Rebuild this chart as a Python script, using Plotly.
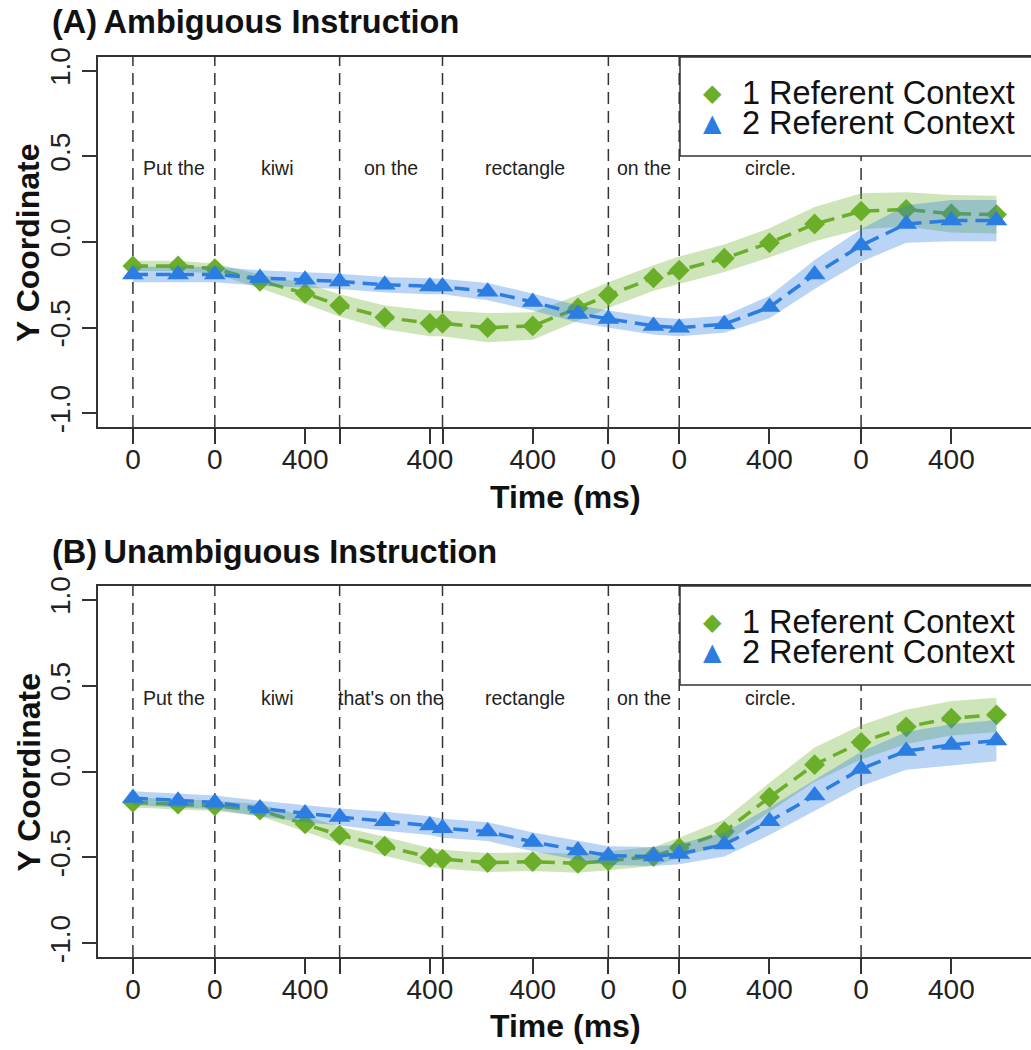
import plotly.graph_objects as go

# ---------------- data ----------------
time_ms = [0, 200, 363, 563, 763, 916, 1116, 1316, 1372, 1572, 1772, 1972,
           2107, 2307, 2421, 2621, 2821, 3021, 3227, 3427, 3627, 3827]
word_onsets = [0, 363, 916, 1372, 2107, 2421, 3227]

words_A = ["Put the", "kiwi", "on the", "rectangle", "on the", "circle."]
words_B = ["Put the", "kiwi", "that's on the", "rectangle", "on the", "circle."]

tick_vals = [0, 363, 763, 916, 1316, 1372, 1772, 2107, 2421, 2821, 3227, 3627]
tick_text = ["0", "0", "400", "", "400", "", "400", "0", "0", "400", "0", "400"]

y_tick_vals = [-1.0, -0.5, 0.0, 0.5, 1.0]
y_tick_text = ["-1.0", "-0.5", "0.0", "0.5", "1.0"]

A_one = [-0.14, -0.14, -0.155, -0.23, -0.30, -0.37, -0.44, -0.475, -0.475, -0.50, -0.49, -0.385,
         -0.31, -0.21, -0.165, -0.095, -0.005, 0.105, 0.18, 0.19, 0.165, 0.16]
A_one_ci = [0.03, 0.03, 0.03, 0.04, 0.06, 0.065, 0.07, 0.075, 0.075, 0.085, 0.08, 0.075,
            0.075, 0.075, 0.08, 0.08, 0.085, 0.10, 0.105, 0.10, 0.11, 0.11]
A_two = [-0.19, -0.19, -0.19, -0.21, -0.22, -0.23, -0.25, -0.26, -0.26, -0.29, -0.35, -0.42,
         -0.45, -0.49, -0.50, -0.48, -0.38, -0.19, -0.02, 0.105, 0.125, 0.125]
A_two_ci = [0.045, 0.045, 0.045, 0.045, 0.045, 0.045, 0.045, 0.045, 0.045, 0.05, 0.05, 0.05,
            0.05, 0.05, 0.05, 0.05, 0.065, 0.085, 0.095, 0.11, 0.12, 0.12]

B_one = [-0.18, -0.19, -0.20, -0.225, -0.305, -0.37, -0.435, -0.50, -0.51, -0.53, -0.525, -0.535,
         -0.52, -0.495, -0.445, -0.35, -0.15, 0.04, 0.17, 0.26, 0.31, 0.33]
B_one_ci = [0.03, 0.03, 0.03, 0.035, 0.045, 0.05, 0.055, 0.055, 0.055, 0.055, 0.055, 0.055,
            0.055, 0.055, 0.06, 0.07, 0.085, 0.10, 0.10, 0.10, 0.10, 0.10]
B_two = [-0.155, -0.17, -0.18, -0.215, -0.245, -0.265, -0.29, -0.315, -0.33, -0.35, -0.41, -0.46,
         -0.49, -0.495, -0.48, -0.425, -0.29, -0.14, 0.015, 0.12, 0.155, 0.18]
B_two_ci = [0.04, 0.04, 0.04, 0.045, 0.05, 0.05, 0.055, 0.055, 0.055, 0.055, 0.055, 0.055,
            0.055, 0.055, 0.06, 0.07, 0.08, 0.09, 0.10, 0.11, 0.12, 0.12]

series_names = ["1 Referent Context", "2 Referent Context"]
panel_titles = ["(A)\u2009Ambiguous Instruction", "(B)\u2009Unambiguous Instruction"]

# ---------------- style ----------------
W, H = 1031, 1050
GREEN = "rgb(106,174,41)"
GREEN_BAND = "rgba(106,174,41,0.33)"
BLUE = "rgb(43,125,225)"
BLUE_BAND = "rgba(43,125,225,0.33)"
DARK = "#333333"
FONT = "Liberation Sans, Arial, Helvetica, sans-serif"

def fx(px):
    return px / W

def fy(py):
    return 1 - py / H

panels = [
    dict(top=57, bottom=427, one=A_one, one_ci=A_one_ci, two=A_two, two_ci=A_two_ci,
         words=words_A, title=panel_titles[0], title_y=22, xtitle_y=497),
    dict(top=586, bottom=957, one=B_one, one_ci=B_one_ci, two=B_two, two_ci=B_two_ci,
         words=words_B, title=panel_titles[1], title_y=552, xtitle_y=1026),
]

fig = go.Figure()
shapes = []
annotations = []
x_left_px = 98.4

for i, p in enumerate(panels):
    sfx = "" if i == 0 else str(i + 1)
    xa = "x" + sfx
    ya = "y" + sfx

    def band(vals, ci, color):
        upper = [v + c for v, c in zip(vals, ci)]
        lower = [v - c for v, c in zip(vals, ci)]
        return go.Scatter(x=time_ms + time_ms[::-1], y=upper + lower[::-1],
                          fill="toself", fillcolor=color, line=dict(width=0),
                          mode="lines", hoverinfo="skip", showlegend=False,
                          xaxis=xa, yaxis=ya)

    fig.add_trace(band(p["one"], p["one_ci"], GREEN_BAND))
    fig.add_trace(go.Scatter(x=time_ms, y=p["one"], mode="lines+markers",
                             name=series_names[0], showlegend=False,
                             line=dict(color=GREEN, width=3.5, dash="15px,8px"),
                             marker=dict(symbol="diamond", size=16, color=GREEN),
                             xaxis=xa, yaxis=ya))
    fig.add_trace(band(p["two"], p["two_ci"], BLUE_BAND))
    fig.add_trace(go.Scatter(x=time_ms, y=p["two"], mode="lines+markers",
                             name=series_names[1], showlegend=False,
                             line=dict(color=BLUE, width=3.5, dash="15px,8px"),
                             marker=dict(symbol="triangle-up", size=19, color=BLUE),
                             xaxis=xa, yaxis=ya))

    dom_y = [fy(p["bottom"]), fy(p["top"])]
    axis_common = dict(showline=True, linecolor=DARK, linewidth=1.5, mirror=True,
                       ticks="outside", ticklen=15, tickwidth=1.5, tickcolor=DARK,
                       showgrid=False, zeroline=False, automargin=False,
                       tickfont=dict(family=FONT, size=28, color="#222222"))
    fig.update_layout(**{
        ("xaxis" + sfx): dict(axis_common, domain=[fx(x_left_px), 1.0], range=[-153, 3980],
                              tickvals=tick_vals, ticktext=tick_text, tickangle=0,
                              ticklabelstandoff=-8, anchor=ya),
        ("yaxis" + sfx): dict(axis_common, domain=dom_y, range=[-1.08, 1.08],
                              tickvals=y_tick_vals, ticktext=y_tick_text, tickangle=-90,
                              anchor=xa),
    })

    # dashed vertical word-onset lines
    for t in word_onsets:
        shapes.append(dict(type="line", xref=xa, yref=ya + " domain", x0=t, x1=t, y0=0, y1=1,
                           line=dict(color=DARK, width=1.5, dash="12px,7px"), layer="below"))

    # word labels
    for k, w in enumerate(p["words"]):
        cx = (word_onsets[k] + word_onsets[k + 1]) / 2
        annotations.append(dict(x=cx, y=0.43, xref=xa, yref=ya, text=w, showarrow=False,
                                font=dict(family=FONT, size=19.5, color="#222222")))

    # legend box (manual)
    top = p["top"]
    shapes.append(dict(type="rect", xref="paper", yref="paper", x0=fx(680), x1=fx(1040),
                       y0=fy(top + 99), y1=fy(top), fillcolor="white",
                       line=dict(color=DARK, width=1.5), layer="above"))
    for k, (sym, col) in enumerate([("\u25C6", GREEN), ("\u25B2", BLUE)]):
        ly = top + 36 + 30 * k
        annotations.append(dict(x=fx(712), y=fy(ly), xref="paper", yref="paper", text=sym,
                                showarrow=False, xanchor="center", yanchor="middle",
                                font=dict(family="DejaVu Sans", size=24, color=col)))
        annotations.append(dict(x=fx(740), y=fy(ly), xref="paper", yref="paper",
                                text=series_names[k], showarrow=False, xanchor="left",
                                yanchor="middle",
                                font=dict(family=FONT, size=32.5, color="#111111")))

    # panel title
    annotations.append(dict(x=fx(50), y=fy(p["title_y"]), xref="paper", yref="paper",
                            text="<b>" + p["title"] + "</b>", showarrow=False,
                            xanchor="left", yanchor="middle",
                            font=dict(family=FONT, size=32.5, color="#111111")))
    # x title
    annotations.append(dict(x=fx(565), y=fy(p["xtitle_y"]), xref="paper", yref="paper",
                            text="<b>Time (ms)</b>", showarrow=False,
                            xanchor="center", yanchor="middle",
                            font=dict(family=FONT, size=32, color="#111111")))
    # y title
    annotations.append(dict(x=fx(28), y=fy((p["top"] + p["bottom"]) / 2 + 1), xref="paper",
                            yref="paper", text="<b>Y Coordinate</b>", showarrow=False,
                            textangle=-90, xanchor="center", yanchor="middle",
                            font=dict(family=FONT, size=32, color="#111111")))

fig.update_layout(width=W, height=H, margin=dict(l=0, r=0, t=0, b=0),
                  paper_bgcolor="white", plot_bgcolor="white",
                  showlegend=False, shapes=shapes, annotations=annotations,
                  font=dict(family=FONT))

fig.write_html("out.html", config={"displayModeBar": False},
               post_script="document.body.style.margin='0px';")
